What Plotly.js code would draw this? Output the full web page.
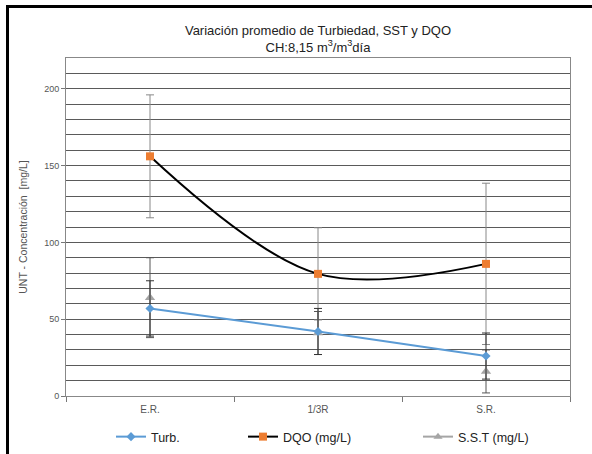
<!DOCTYPE html>
<html>
<head>
<meta charset="utf-8">
<script src="https://cdn.plot.ly/plotly-3.0.1.min.js"></script>
<style>
  html, body { margin: 0; padding: 0; background: #fff; }
  #wrap { position: relative; width: 592px; height: 454px; overflow: hidden; }
  #chart { position: absolute; left: 0; top: 0; width: 592px; height: 454px; }
  #frame { position: absolute; left: 6px; top: 5px; width: 700px; height: 600px;
           border-left: 3px solid #000; border-top: 3px solid #000; pointer-events: none; }
</style>
</head>
<body>
<div id="wrap">
  <div id="chart"></div>
  <div id="frame"></div>
</div>
<script>
const categories = ['E.R.', '1/3R', 'S.R.'];
const turb = [57, 42, 26];
const turbErr = [18, 15, 15];
const dqo = [156, 79.5, 86];
const dqoErr = [40, 30, 52.5];
const sst = [64, 41, 16];
const sstErr = [26, 14, 14];
const yTicks = [0, 50, 100, 150, 200];

const font = 'Liberation Sans, Arial, sans-serif';

const traces = [
  {
    x: categories, y: sst, name: 'S.S.T (mg/L)', type: 'scatter', mode: 'markers',
    marker: { symbol: 'triangle-up', size: 9, color: '#A5A5A5' },
    error_y: { type: 'data', array: sstErr, visible: true, color: '#555', thickness: 1, width: 4 },
    showlegend: false, hoverinfo: 'skip'
  },
  {
    x: categories, y: dqo, name: 'DQO (mg/L)', type: 'scatter', mode: 'lines+markers',
    line: { color: '#000', width: 2, shape: 'spline', smoothing: 1 },
    marker: { symbol: 'square', size: 8, color: '#ED7D31' },
    error_y: { type: 'data', array: dqoErr, visible: true, color: '#888', thickness: 1, width: 4 },
    legend: 'legend2'
  },
  {
    x: categories, y: turb, name: 'Turb.', type: 'scatter', mode: 'lines+markers',
    line: { color: '#5B9BD5', width: 2 },
    marker: { symbol: 'diamond', size: 7, color: '#5B9BD5' },
    error_y: { type: 'data', array: turbErr, visible: true, color: '#333', thickness: 1, width: 4 },
    legend: 'legend'
  },
  {
    x: [null], y: [null], name: 'S.S.T (mg/L)', type: 'scatter', mode: 'lines+markers',
    line: { color: '#A5A5A5', width: 2 },
    marker: { symbol: 'triangle-up', size: 8, color: '#A5A5A5' },
    legend: 'legend3', hoverinfo: 'skip'
  }
];

const L = 66, R = 570, T = 58, B = 396;
const legCommon = { orientation: 'h', yanchor: 'middle', y: 1 - 437 / 454, yref: 'container',
  xanchor: 'left', xref: 'container',
  font: { family: font, size: 12.5, color: '#222' }, bgcolor: 'rgba(0,0,0,0)', itemwidth: 30 };

const layout = {
  width: 592, height: 454,
  margin: { l: L, r: 592 - R, t: T, b: 454 - B },
  paper_bgcolor: '#fff', plot_bgcolor: '#fff',
  title: {
    text: 'Variación promedio de Turbiedad, SST y DQO<br>CH:8,15 m<sup>3</sup>/m<sup>3</sup>día',
    font: { family: font, size: 13, color: '#222' },
    x: 318 / 592, xanchor: 'center', xref: 'container',
    y: 1 - 35 / 454, yanchor: 'middle', yref: 'container'
  },
  xaxis: {
    type: 'category', range: [-0.5, 2.5], tickson: 'boundaries',
    ticks: 'outside', ticklen: 5, tickcolor: '#777', ticklabelstandoff: 4,
    showline: true, linecolor: '#888', linewidth: 1, mirror: true,
    showgrid: false, zeroline: false,
    tickfont: { family: font, size: 10, color: '#555' }
  },
  yaxis: {
    range: [0, 220], tickvals: yTicks, ticktext: yTicks.map(String),
    ticks: 'outside', ticklen: 4, tickcolor: '#777',
    showline: true, linecolor: '#888', linewidth: 1, mirror: true,
    showgrid: true, gridcolor: '#5a5a5a', gridwidth: 1,
    minor: { dtick: 10, showgrid: true, gridcolor: '#5a5a5a', gridwidth: 1 },
    zeroline: false,
    tickfont: { family: font, size: 9, color: '#555' },
    title: { text: 'UNT - Concentración  [mg/L]', font: { family: font, size: 10.5, color: '#555' }, standoff: 14 }
  },
  legend: Object.assign({}, legCommon, { x: 111 / 592 }),
  legend2: Object.assign({}, legCommon, { x: 243 / 592 }),
  legend3: Object.assign({}, legCommon, { x: 418 / 592 }),
  showlegend: true
};

Plotly.newPlot('chart', traces, layout, { displayModeBar: false, staticPlot: true });
</script>
</body>
</html>
